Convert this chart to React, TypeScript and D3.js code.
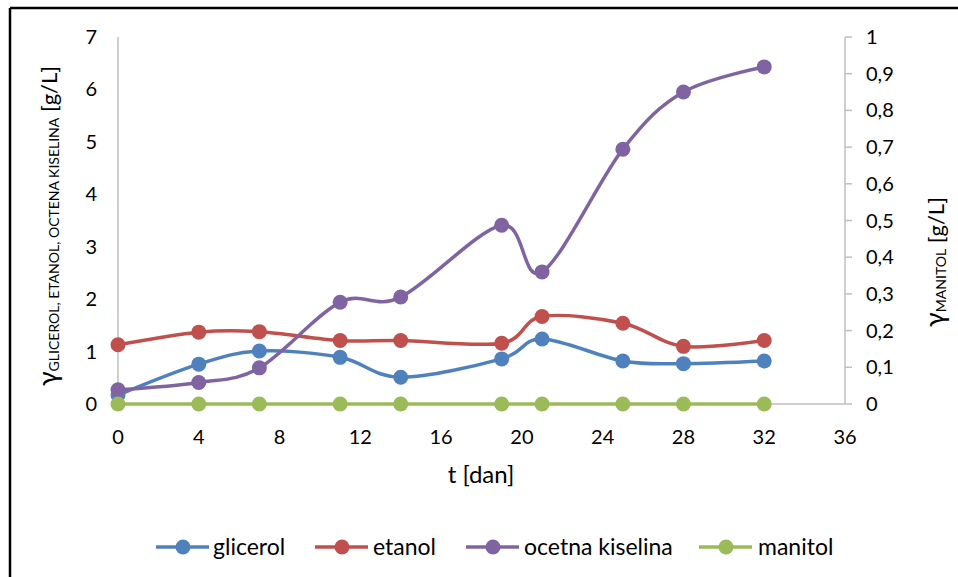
import React from 'react';
import * as d3 from 'd3';

const days = [0, 4, 7, 11, 14, 19, 21, 25, 28, 32];
const glicerol = [0.17, 0.76, 1.01, 0.89, 0.51, 0.86, 1.24, 0.82, 0.77, 0.82];
const etanol = [1.13, 1.37, 1.38, 1.21, 1.21, 1.16, 1.67, 1.54, 1.1, 1.21];
const ocetnaKiselina = [0.27, 0.41, 0.69, 1.94, 2.04, 3.41, 2.52, 4.86, 5.95, 6.43];
const manitol = [0, 0, 0, 0, 0, 0, 0, 0, 0, 0];

const xTicks = [0, 4, 8, 12, 16, 20, 24, 28, 32, 36];
const leftTicks = [0, 1, 2, 3, 4, 5, 6, 7];
const rightTicks = [0, 0.1, 0.2, 0.3, 0.4, 0.5, 0.6, 0.7, 0.8, 0.9, 1];

const series = [
  { name: 'glicerol', values: glicerol, color: '#4F81BD', axis: 'left' },
  { name: 'etanol', values: etanol, color: '#C0504D', axis: 'left' },
  { name: 'ocetna kiselina', values: ocetnaKiselina, color: '#8064A2', axis: 'left' },
  { name: 'manitol', values: manitol, color: '#9BBB59', axis: 'right' },
];

const W = 958;
const H = 577;
const margin = { left: 118, right: 113, top: 37, bottom: 173 };
const FONT = 'Lato, "Open Sans", sans-serif';

export default function App() {
  const x = d3.scaleLinear().domain([0, 36]).range([margin.left, W - margin.right]);
  const yL = d3.scaleLinear().domain([0, 7]).range([H - margin.bottom, margin.top]);
  const yR = d3.scaleLinear().domain([0, 1]).range([H - margin.bottom, margin.top]);
  const fmt = (v: number) => (Math.round(v * 10) / 10).toString().replace('.', ',');

  const line = (vals: number[], y: d3.ScaleLinear<number, number>) =>
    d3
      .line<number>()
      .x((_, i) => x(days[i]))
      .y((d) => y(d))
      .curve(d3.curveCardinal.tension(0))(vals) || '';

  // legend: start of line sample, start of text
  const legend = [
    { lx: 156, tx: 213 },
    { lx: 315, tx: 373 },
    { lx: 466, tx: 524 },
    { lx: 699, tx: 758 },
  ];
  const legY = 547;

  const y0 = yL(0);

  return (
    <svg width={W} height={H} style={{ position: 'absolute', left: 0, top: 0, background: '#fff' }}>
      {/* chart border */}
      <line x1={10} x2={W} y1={8} y2={8} stroke="#000" strokeWidth={2.5} />
      <line x1={10} x2={10} y1={8} y2={H} stroke="#000" strokeWidth={2.5} />

      {/* axes */}
      <line x1={x(0)} x2={x(0)} y1={yL(7)} y2={y0} stroke="#BFBFBF" strokeWidth={1.5} />
      <line x1={x(0)} x2={x(36)} y1={y0} y2={y0} stroke="#BFBFBF" strokeWidth={1.5} />
      <line x1={x(36)} x2={x(36)} y1={yR(1)} y2={y0} stroke="#BFBFBF" strokeWidth={1.5} />
      {rightTicks.map((t) => (
        <line key={t} x1={x(36)} x2={x(36) + 7} y1={yR(t)} y2={yR(t)} stroke="#BFBFBF" strokeWidth={1.5} />
      ))}

      <g fontFamily={FONT} fontSize={20} fill="#000">
        {leftTicks.map((t) => (
          <text key={t} x={97} y={yL(t)} dy="0.35em" textAnchor="end">
            {t}
          </text>
        ))}
        {rightTicks.map((t) => (
          <text key={t} x={866} y={yR(t)} dy="0.35em" textAnchor="start">
            {fmt(t)}
          </text>
        ))}
        {xTicks.map((t) => (
          <text key={t} x={x(t)} y={437} dy="0.35em" textAnchor="middle">
            {t}
          </text>
        ))}
        <text x={481} y={475} dy="0.35em" textAnchor="middle" fontSize={24}>
          t [dan]
        </text>

        <text transform="translate(57,226) rotate(-90)" textAnchor="middle">
          <tspan fontSize={27}>γ</tspan>
          <tspan fontSize={14} dy={2}>GLICEROL, ETANOL, OCTENA KISELINA</tspan>
          <tspan fontSize={22} dy={-2}> [g/L]</tspan>
        </text>
        <text transform="translate(944,262) rotate(-90)" textAnchor="middle">
          <tspan fontSize={27}>γ</tspan>
          <tspan fontSize={14} dy={2}>MANITOL</tspan>
          <tspan fontSize={22} dy={-2}> [g/L]</tspan>
        </text>
      </g>

      {/* series */}
      {series.map((s) => {
        const y = s.axis === 'left' ? yL : yR;
        return (
          <g key={s.name}>
            <path d={line(s.values, y)} fill="none" stroke={s.color} strokeWidth={3.5} strokeLinecap="round" />
            {s.values.map((v, i) => (
              <circle key={i} cx={x(days[i])} cy={y(v)} r={7.5} fill={s.color} />
            ))}
          </g>
        );
      })}

      {/* legend */}
      <g fontFamily={FONT} fontSize={23}>
        {series.map((s, i) => (
          <g key={s.name}>
            <line x1={legend[i].lx} x2={legend[i].lx + 53} y1={legY} y2={legY} stroke={s.color} strokeWidth={3.5} />
            <circle cx={legend[i].lx + 27} cy={legY} r={7.5} fill={s.color} />
            <text x={legend[i].tx} y={legY} dy="0.35em">
              {s.name}
            </text>
          </g>
        ))}
      </g>
    </svg>
  );
}
